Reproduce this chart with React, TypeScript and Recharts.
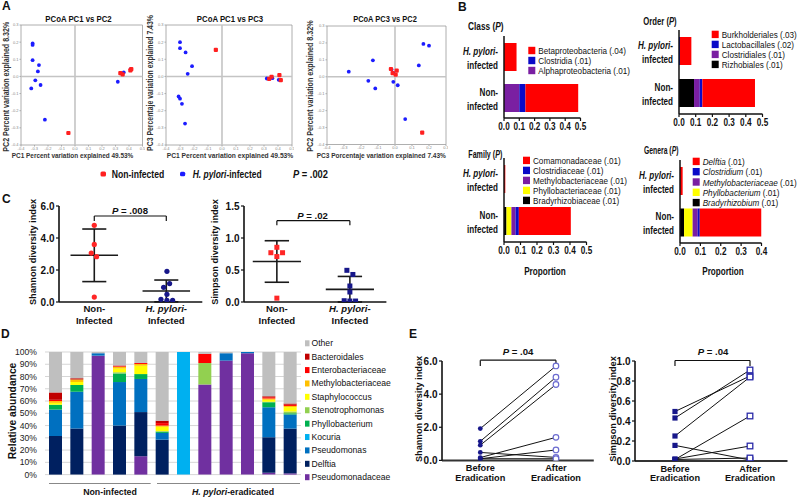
import React from 'react';
import {
  ScatterChart, Scatter, XAxis, YAxis, ReferenceLine, ReferenceArea,
  BarChart, Bar, CartesianGrid,
} from 'recharts';

const SANS = '"Liberation Sans",Arial,Helvetica,sans-serif';

// ================= Panel A: PCoA coordinates [x, y] =================
const pcoa12Infected = [[-0.314, 0.192], [-0.314, 0.184], [-0.314, 0.095], [-0.267, 0.066], [-0.275, 0.029], [-0.294, -0.023], [-0.324, -0.07], [-0.255, -0.05], [-0.223, -0.252], [0.317, -0.031], [0.361, 0.023], [0.412, 0.043]];
const pcoa12NonInfected = [[-0.049, -0.33], [0.336, 0.019], [0.353, 0.012], [0.41, 0.035], [0.417, 0.043]];
const pcoa13Infected = [[-0.3, 0.2], [-0.3, 0.165], [-0.26, 0.14], [-0.214, 0.06], [-0.245, 0.015], [-0.31, -0.117], [-0.3, -0.13], [-0.286, -0.16], [-0.264, -0.275], [0.32, -0.012], [0.36, -0.01], [0.405, -0.02]];
const pcoa13NonInfected = [[-0.044, 0.155], [0.337, -0.014], [0.354, -0.002], [0.41, 0.008], [0.42, -0.021]];
const pcoa32Infected = [[0.167, 0.194], [0.2, 0.184], [-0.13, 0.097], [0.14, 0.067], [-0.272, 0.03], [-0.157, -0.024], [-0.116, -0.069], [-0.01, -0.03], [0.016, -0.05], [0.06, -0.25], [-0.01, 0.023], [-0.02, 0.043]];
const pcoa32NonInfected = [[-0.024, 0.046], [0.01, 0.036], [-0.014, 0.022], [0.004, 0.012], [0.16, -0.33]];
const pcoaTicksWide = [-0.4, -0.3, -0.2, -0.1, 0, 0.1, 0.2, 0.3, 0.4, 0.5];
const pcoaTicksShort = [-0.4, -0.3, -0.2, -0.1, 0, 0.1, 0.2, 0.3];

// ================= Panel B: mean proportions =================
const groupLabels = ['H. pylori-infected', 'Non-infected'];
const classAlphaproteobacteria = [0, 0.1];
const classClostridia = [0, 0.04];
const classBetaproteobacteria = [0.082, 0.345];
const classLegend = [['Betaproteobacteria', '(.04)'], ['Clostridia', '(.01)'], ['Alphaproteobacteria', '(.01)']];
const orderRhizobiales = [0, 0.09];
const orderClostridiales = [0, 0.034];
const orderLactobacillales = [0.006, 0.016];
const orderBurkholderiales = [0.068, 0.315];
const orderLegend = [['Burkholderiales', '(.03)'], ['Lactobacillales', '(.02)'], ['Clostridiales', '(.01)'], ['Rizhobiales', '(.01)']];
const familyBradyrhizobiaceae = [0, 0.015];
const familyPhyllobacteriaceae = [0, 0.03];
const familyMethylobacteriaceae = [0, 0.025];
const familyClostridiaceae = [0, 0.02];
const familyComamonadaceae = [0.008, 0.315];
const familyLegend = [['Comamonadaceae', '(.01)'], ['Clostridiaceae', '(.01)'], ['Methylobacteriaceae', '(.01)'], ['Phyllobacteriaceae', '(.01)'], ['Bradyrhizobiaceae', '(.01)']];
const generaBradyrhizobium = [0, 0.02];
const generaPhyllobacterium = [0, 0.042];
const generaMethylobacteriaceae = [0, 0.025];
const generaClostridium = [0, 0.01];
const generaDelftia = [0.013, 0.303];
const generaLegend = [['Delftia', '(.01)'], ['Clostridium', '(.01)'], ['Methylobacteriaceae', '(.01)'], ['Phyllobacterium', '(.01)'], ['Bradyrhizobium', '(.01)']];
const propTicks5 = [0, 0.1, 0.2, 0.3, 0.4, 0.5];
const propTicks4 = [0, 0.1, 0.2, 0.3, 0.4];

// ================= Panel C: diversity =================
const shannonNonInfected = [4.79, 3.6, 3.06, 2.83, 0.31];
const shannonInfected = [1.92, 1.15, 0.92, 0.48, 0.17, 0.1, 0.1];
const simpsonNonInfected = [0.855, 0.77, 0.77, 0.71, 0.06];
const simpsonInfected = [0.495, 0.43, 0.25, 0.156, 0.02, 0.015, 0.015];
const shannonNonJitter = [0, 0, -0.042, 0.032, 0];
const shannonInfJitter = [0.009, 0.046, -0.037, 0.009, -0.074, 0.009, 0.088];
const simpsonNonJitter = [0, -0.082, 0.078, 0, 0];
const simpsonInfJitter = [-0.041, 0.041, 0, 0, -0.078, 0, 0.078];

// ================= Panel D: relative abundance (%) =================
const dSamples = ['N1', 'N2', 'N3', 'N4', 'N5', 'E1', 'E2', 'E3', 'E4', 'E5', 'E6', 'E7'];
const dPseudomonadaceae = [0, 0, 97, 0, 15, 0, 0, 73.5, 93, 99, 1.5, 1];
const dDelftia = [31.5, 37.5, 0, 40, 36, 28.5, 0, 0, 0, 0, 29, 36.5];
const dPseudomonas = [21.5, 30, 2, 35.5, 27, 5.5, 0, 0, 6, 1, 24.5, 11.5];
const dKocuria = [0, 0, 0, 0, 0, 0, 100, 0, 0, 0, 0, 0];
const dPhyllobacterium = [4, 5.5, 0, 7, 4, 1, 0, 0, 0, 0, 4, 1];
const dStenotrophomonas = [0, 0, 0, 1, 0, 0.5, 0, 17.5, 0, 0, 0.5, 1.5];
const dStaphylococcus = [1.5, 2.5, 0, 3, 6.8, 3.5, 0, 0, 0, 0, 1.5, 3.5];
const dMethylobacteriaceae = [1.5, 2, 0, 1.5, 1.4, 1, 0, 0, 0, 0, 1, 1];
const dEnterobacteriaceae = [1, 0, 0, 0.5, 0.8, 2, 0, 7.5, 0, 0, 1, 1];
const dBacteroidales = [6, 1, 0, 0.5, 0, 2, 0, 0, 0, 0, 1, 1];
const dOther = [33, 21.5, 1, 11, 9, 56, 0, 1.5, 1, 0, 36, 42];
const dPercentTicks = [0, 10, 20, 30, 40, 50, 60, 70, 80, 90, 100];

// ================= Panel E: before / after eradication =================
const eShannonBefore = [1.92, 1.15, 0.92, 0.48, 0.17, 0.1, 0.1];
const eShannonAfter = [5.7, 5.02, 4.58, 0.18, 1.39, 0.63, 0.1];
const eSimpsonBefore = [0.495, 0.43, 0.25, 0.156, 0.02, 0.015, 0.015];
const eSimpsonAfter = [0.85, 0.91, 0.84, 0.01, 0.15, 0.45, 0.03];

// ================= text metrics (Arial / Liberation Sans advance widths) =================
const REG: Record<string, number> = { ' ': 278, '!': 278, '%': 889, '(': 333, ')': 333, '-': 333, '.': 278, ',': 278, ':': 278, '=': 584 };
const BLD: Record<string, number> = { ' ': 278, '!': 333, '%': 889, '(': 333, ')': 333, '-': 333, '.': 278, ',': 278, ':': 333, '=': 584 };
'0123456789'.split('').forEach((c) => { REG[c] = 556; BLD[c] = 556; });
const UP = 'ABCDEFGHIJKLMNOPQRSTUVWXYZ';
const LO = 'abcdefghijklmnopqrstuvwxyz';
const upReg = [667, 667, 722, 722, 667, 611, 778, 722, 278, 500, 667, 556, 833, 722, 778, 667, 778, 722, 667, 611, 722, 667, 944, 667, 667, 611];
const upBld = [722, 722, 722, 722, 667, 611, 778, 722, 278, 556, 722, 611, 833, 722, 778, 667, 778, 722, 667, 611, 722, 667, 944, 667, 667, 611];
const loReg = [556, 556, 500, 556, 556, 278, 556, 556, 222, 222, 500, 222, 833, 556, 556, 556, 556, 333, 500, 278, 556, 500, 722, 500, 500, 500];
const loBld = [556, 611, 556, 611, 556, 333, 611, 611, 278, 278, 556, 278, 889, 611, 611, 611, 611, 389, 556, 333, 611, 556, 778, 556, 556, 500];
UP.split('').forEach((c, i) => { REG[c] = upReg[i]; BLD[c] = upBld[i]; });
LO.split('').forEach((c, i) => { REG[c] = loReg[i]; BLD[c] = loBld[i]; });
const emWidth = (s: string, bold: boolean) => s.split('').reduce((w, c) => w + ((bold ? BLD : REG)[c] ?? 556), 0) / 1000;

type Seg = string | { i: string };
const segText = (s: Seg) => (typeof s === 'string' ? s : s.i);

// One <text> per label; horizontal condensation by a scale transform (sx, or to reach width w)
function T(props: { x: number; y: number; size: number; t: Seg | Seg[]; bold?: boolean; anchor?: 'start' | 'middle' | 'end'; rot?: boolean; sx?: number; w?: number; fill?: string }) {
  const { x, y, size, t, bold = false, anchor = 'start', rot, sx = 1, w, fill = '#111' } = props;
  const segs = Array.isArray(t) ? t : [t];
  const natural = emWidth(segs.map(segText).join(''), bold) * size;
  const k = w ? w / natural : sx;
  const tf = `translate(${x},${y})${rot ? ' rotate(-90)' : ''}${Math.abs(k - 1) > 0.001 ? ` scale(${k.toFixed(4)},1)` : ''}`;
  return (
    <g transform={tf}>
      <text x={0} y={0} fontSize={size} fontWeight={bold ? 'bold' : 'normal'} textAnchor={anchor} fontFamily={SANS} fill={fill}>
        {segs.map((s, idx) => (typeof s === 'string'
          ? <tspan key={idx}>{s}</tspan>
          : <tspan key={idx} fontStyle="italic">{s.i}</tspan>))}
      </text>
    </g>
  );
}

// ================= helpers =================
const mean = (a: number[]) => a.reduce((s, v) => s + v, 0) / a.length;
const sd = (a: number[]) => {
  const m = mean(a);
  return Math.sqrt(a.reduce((s, v) => s + (v - m) * (v - m), 0) / (a.length - 1));
};
const toXY = (a: number[][]) => a.map(([x, y]) => ({ x, y }));

function place(x0: number, y0: number, x1: number, y1: number, yw: number, xh: number, pl = 2, pt = 10, pr = 10, pb = 2) {
  return {
    left: x0 - yw - pl,
    top: y0 - pt,
    width: x1 - x0 + yw + pl + pr,
    height: y1 - y0 + pt + xh + pb,
    margin: { left: pl, top: pt, right: pr, bottom: pb },
  };
}

const BLUE_A = '#1c1cff';
const RED_A = '#ff2020';
const cRED = '#ff0000';
const cBLUE = '#0a0ac8';
const cPURPLE = '#7a1fa2';
const cYELLOW = '#ffff00';
const cBLACK = '#000000';
const NAVY = '#17178a';

// ================= Panel A =================
const blueDot = (p: any) => <circle cx={p.cx} cy={p.cy} r={1.9} fill={BLUE_A} />;
const redDot = (p: any) => <rect x={p.cx - 2.1} y={p.cy - 2.1} width={4.2} height={4.2} rx={1} fill={RED_A} />;

function PcoaPlot(props: { x0: number; y0: number; x1: number; y1: number; xTicks: number[]; blue: number[][]; red: number[][] }) {
  const { x0, y0, x1, y1, xTicks, blue, red } = props;
  const p = place(x0, y0, x1, y1, 10, 8, 0, 10, 2, 2);
  const xMin = xTicks[0];
  const xMax = xTicks[xTicks.length - 1];
  const tickStyle = { fontSize: 4, fill: '#888', fontFamily: SANS };
  return (
    <div style={{ position: 'absolute', left: p.left, top: p.top }}>
      <ScatterChart width={p.width} height={p.height} margin={p.margin}>
        <XAxis type="number" dataKey="x" domain={[xMin, xMax]} ticks={xTicks} interval={0} allowDataOverflow
          tickFormatter={(v: number) => v.toFixed(1)} axisLine={false} tickLine={{ stroke: '#aaa' }} tickSize={1.5} tickMargin={0.5}
          tick={tickStyle} height={8} />
        <YAxis type="number" dataKey="y" domain={[-0.4, 0.3]} ticks={pcoaTicksShort} interval={0} allowDataOverflow
          tickFormatter={(v: number) => v.toFixed(1)} axisLine={false} tickLine={{ stroke: '#aaa' }} tickSize={1.5} tickMargin={1}
          tick={tickStyle} width={10} />
        <ReferenceArea x1={xMin} x2={xMax} y1={-0.4} y2={0.3} fill="none" stroke="#9a9a9a" strokeWidth={0.8} />
        <ReferenceLine x={0} stroke="#c4c4c4" strokeWidth={1.6} />
        <ReferenceLine y={0} stroke="#c4c4c4" strokeWidth={1.6} />
        <Scatter data={toXY(blue)} shape={blueDot} isAnimationActive={false} />
        <Scatter data={toXY(red)} shape={redDot} isAnimationActive={false} />
      </ScatterChart>
    </div>
  );
}

// ================= Panel B =================
function GroupTick(props: any) {
  const { x, y, payload } = props;
  const hp = String(payload.value).startsWith('H.');
  return (
    <g>
      <T x={x} y={y - 2} size={10.5} bold anchor="end" sx={0.77} t={hp ? [{ i: 'H. pylori' }, '-'] : 'Non-'} />
      <T x={x} y={y + 12} size={10.5} bold anchor="end" sx={0.77} t="infected" />
    </g>
  );
}
function PropTick(props: any) {
  const { x, y, payload } = props;
  return <T x={x} y={y + 8} size={10.5} bold anchor="middle" sx={0.78} t={Number(payload.value).toFixed(1)} />;
}

type Series = { name: string; values: number[]; color: string };

function ProportionBars(props: { x0: number; y0: number; x1: number; y1: number; ticks: number[]; series: Series[] }) {
  const { x0, y0, x1, y1, ticks, series } = props;
  const p = place(x0, y0, x1, y1, 56, 18);
  const data = groupLabels.map((g, i) => {
    const row: any = { group: g };
    series.forEach((s) => { row[s.name] = s.values[i]; });
    return row;
  });
  return (
    <div style={{ position: 'absolute', left: p.left, top: p.top }}>
      <BarChart width={p.width} height={p.height} margin={p.margin} data={data} layout="vertical" barSize={28} barCategoryGap={0}>
        <XAxis type="number" domain={[0, ticks[ticks.length - 1]]} ticks={ticks} interval={0} allowDataOverflow
          axisLine={{ stroke: '#111', strokeWidth: 1.5 }} tickLine={{ stroke: '#111', strokeWidth: 1.2 }}
          tickSize={3} tickMargin={1} height={18} tick={<PropTick />} />
        <YAxis type="category" dataKey="group" width={56} axisLine={{ stroke: '#111', strokeWidth: 1.5 }} tickLine={false}
          tickSize={0} tickMargin={6} tick={<GroupTick />} interval={0} />
        {series.map((s) => (
          <Bar key={s.name} dataKey={s.name} stackId="s" fill={s.color} isAnimationActive={false} />
        ))}
      </BarChart>
    </div>
  );
}

// ================= Panels C and E shared =================
function makeCatTick(lines: Record<number, [Seg | Seg[], string]>, d1: number, d2: number, size: number) {
  return (props: any) => {
    const { x, y, payload } = props;
    const l = lines[payload.value];
    if (!l) return <g />;
    return (
      <g>
        <T x={x} y={y + d1} size={size} bold anchor="middle" t={l[0]} />
        <T x={x} y={y + d2} size={size} bold anchor="middle" t={l[1]} />
      </g>
    );
  };
}
const cTick = makeCatTick({ 1: ['Non-', 'Infected'], 2: [[{ i: 'H. pylori' }, '-'], 'Infected'] }, 9.7, 22, 9.6);
const eTick = makeCatTick({ 1: ['Before', 'Eradication'], 2: ['After', 'Eradication'] }, 11, 20.2, 9.2);

const boldTick = { fontSize: 10, fontFamily: SANS, fontWeight: 'bold', fill: '#111' };

function DiversityPlot(props: {
  x0: number; y0: number; x1: number; y1: number; xMin: number; yMax: number; yTicks: number[];
  non: number[]; nonJ: number[]; inf: number[]; infJ: number[]; bracket: [number, number]; square: boolean;
}) {
  const { x0, y0, x1, y1, xMin, yMax, yTicks, non, nonJ, inf, infJ, bracket, square } = props;
  const p = place(x0, y0, x1, y1, 28, 26);
  const groups = [
    { c: 1, vals: non, jit: nonJ, color: '#ff2626' },
    { c: 2, vals: inf, jit: infJ, color: NAVY },
  ];
  const shape = (color: string) => (q: any) => square
    ? <rect x={q.cx - 2.5} y={q.cy - 2.5} width={5} height={5} fill={color} />
    : <circle cx={q.cx} cy={q.cy} r={2.6} fill={color} />;
  const lineProps = { stroke: '#1a1a1a', strokeWidth: 1.6, ifOverflow: 'visible' as const };
  return (
    <div style={{ position: 'absolute', left: p.left, top: p.top }}>
      <ScatterChart width={p.width} height={p.height} margin={p.margin}>
        <XAxis type="number" dataKey="x" domain={[xMin, 2.5]} ticks={[1, 2]} interval={0} allowDataOverflow
          axisLine={{ stroke: '#111', strokeWidth: 1.6 }} tickLine={false} tickSize={0} tickMargin={0} tick={cTick} height={26} />
        <YAxis type="number" dataKey="y" domain={[0, yMax]} ticks={yTicks} interval={0} allowDataOverflow
          tickFormatter={(v: number) => v.toFixed(1)} axisLine={{ stroke: '#111', strokeWidth: 1.6 }}
          tickLine={{ stroke: '#111', strokeWidth: 1.2 }} tickSize={3} tickMargin={1.5} tick={boldTick} width={28} />
        {groups.map((g) => {
          const m = mean(g.vals);
          const s = sd(g.vals);
          const hi = m + s;
          const lo = Math.max(0, m - s);
          return [
            <ReferenceLine key={`m${g.c}`} segment={[{ x: g.c - 0.33, y: m }, { x: g.c + 0.33, y: m }]} {...lineProps} />,
            <ReferenceLine key={`v${g.c}`} segment={[{ x: g.c, y: lo }, { x: g.c, y: hi }]} {...lineProps} />,
            <ReferenceLine key={`h${g.c}`} segment={[{ x: g.c - 0.167, y: hi }, { x: g.c + 0.167, y: hi }]} {...lineProps} />,
            <ReferenceLine key={`l${g.c}`} segment={[{ x: g.c - 0.167, y: lo }, { x: g.c + 0.167, y: lo }]} {...lineProps} />,
          ];
        })}
        <ReferenceLine segment={[{ x: 1, y: bracket[0] }, { x: 2, y: bracket[0] }]} stroke="#111" strokeWidth={1.2} ifOverflow="visible" />
        <ReferenceLine segment={[{ x: 1, y: bracket[0] }, { x: 1, y: bracket[1] }]} stroke="#111" strokeWidth={1.2} ifOverflow="visible" />
        <ReferenceLine segment={[{ x: 2, y: bracket[0] }, { x: 2, y: bracket[1] }]} stroke="#111" strokeWidth={1.2} ifOverflow="visible" />
        {groups.map((g) => (
          <Scatter key={`s${g.c}`} data={g.vals.map((v, i) => ({ x: g.c + g.jit[i], y: v }))} shape={shape(g.color)} isAnimationActive={false} />
        ))}
      </ScatterChart>
    </div>
  );
}

// ================= Panel D =================
const dTaxa: Series[] = [
  { name: 'Pseudomonadaceae', values: dPseudomonadaceae, color: '#7030a0' },
  { name: 'Delftia', values: dDelftia, color: '#002060' },
  { name: 'Pseudomonas', values: dPseudomonas, color: '#0070c0' },
  { name: 'Kocuria', values: dKocuria, color: '#00b0f0' },
  { name: 'Phyllobacterium', values: dPhyllobacterium, color: '#00b050' },
  { name: 'Stenotrophomonas', values: dStenotrophomonas, color: '#92d050' },
  { name: 'Staphylococcus', values: dStaphylococcus, color: '#ffff00' },
  { name: 'Methylobacteriaceae', values: dMethylobacteriaceae, color: '#ffc000' },
  { name: 'Enterobacteriaceae', values: dEnterobacteriaceae, color: '#ff0000' },
  { name: 'Bacteroidales', values: dBacteroidales, color: '#c00000' },
  { name: 'Other', values: dOther, color: '#bfbfbf' },
];

function AbundanceBars() {
  const p = place(45, 351.7, 301, 474.3, 30, 0, 2, 10, 2, 8);
  const data = dSamples.map((s, i) => {
    const row: any = { sample: s };
    dTaxa.forEach((t) => { row[t.name] = t.values[i]; });
    return row;
  });
  return (
    <div style={{ position: 'absolute', left: p.left, top: p.top }}>
      <BarChart width={p.width} height={p.height} margin={p.margin} data={data} barSize={13}>
        <CartesianGrid vertical={false} stroke="#d6d6d6" strokeWidth={1} />
        <XAxis dataKey="sample" hide />
        <YAxis type="number" domain={[0, 100]} ticks={dPercentTicks} interval={0} tickFormatter={(v: number) => `${v}%`}
          axisLine={false} tickLine={false} tickSize={6} tickMargin={2} width={30}
          tick={{ fontSize: 8.6, fontFamily: SANS, fill: '#222' }} />
        {dTaxa.map((t) => (
          <Bar key={t.name} dataKey={t.name} stackId="d" fill={t.color} isAnimationActive={false} />
        ))}
      </BarChart>
    </div>
  );
}

// ================= Panel E =================
function PairedPlot(props: {
  x0: number; y0: number; x1: number; y1: number; xMin: number; yMax: number; yTicks: number[];
  before: number[]; after: number[]; square: boolean; bracket: [number, number];
}) {
  const { x0, y0, x1, y1, xMin, yMax, yTicks, before, after, square, bracket } = props;
  const p = place(x0, y0, x1, y1, 28, 24);
  const marker = (q: any) => {
    const isBefore = q.payload && q.payload.x === 1;
    if (square) {
      return isBefore
        ? <rect x={q.cx - 2.6} y={q.cy - 2.6} width={5.2} height={5.2} fill={NAVY} />
        : <rect x={q.cx - 2.8} y={q.cy - 2.8} width={5.6} height={5.6} fill="#fff" stroke="#2a2aa8" strokeWidth={1.3} />;
    }
    return isBefore
      ? <circle cx={q.cx} cy={q.cy} r={2.4} fill={NAVY} />
      : <circle cx={q.cx} cy={q.cy} r={2.8} fill="#fff" stroke="#6b6bd0" strokeWidth={1.2} />;
  };
  return (
    <div style={{ position: 'absolute', left: p.left, top: p.top }}>
      <ScatterChart width={p.width} height={p.height} margin={p.margin}>
        <XAxis type="number" dataKey="x" domain={[xMin, 2.5]} ticks={[1, 2]} interval={0} allowDataOverflow
          axisLine={{ stroke: '#333', strokeWidth: 2 }} tickLine={false} tickSize={0} tickMargin={0} tick={eTick} height={24} />
        <YAxis type="number" dataKey="y" domain={[0, yMax]} ticks={yTicks} interval={0} allowDataOverflow
          tickFormatter={(v: number) => v.toFixed(1)} axisLine={{ stroke: '#111', strokeWidth: 1.6 }}
          tickLine={{ stroke: '#111', strokeWidth: 1.2 }} tickSize={3} tickMargin={1.5} tick={boldTick} width={28} />
        <ReferenceLine segment={[{ x: 1, y: bracket[0] }, { x: 2, y: bracket[0] }]} stroke="#111" strokeWidth={1.2} ifOverflow="visible" />
        <ReferenceLine segment={[{ x: 1, y: bracket[0] }, { x: 1, y: bracket[1] }]} stroke="#111" strokeWidth={1.2} ifOverflow="visible" />
        <ReferenceLine segment={[{ x: 2, y: bracket[0] }, { x: 2, y: bracket[1] }]} stroke="#111" strokeWidth={1.2} ifOverflow="visible" />
        {before.map((b, i) => (
          <Scatter key={i} data={[{ x: 1, y: b }, { x: 2, y: after[i] }]} line={{ stroke: '#111', strokeWidth: 1 }}
            shape={marker} isAnimationActive={false} />
        ))}
      </ScatterChart>
    </div>
  );
}

// ================= overlay text =================
function LegendB(props: { x: number; top: number; step: number; items: string[][]; colors: string[]; italic?: boolean }) {
  const { x, top, step, items, colors, italic } = props;
  return (
    <g>
      {items.map((it, i) => (
        <g key={i}>
          <rect x={x} y={top + i * step} width={7} height={7.4} fill={colors[i]} />
          <T x={x + 10} y={top + i * step + 7.4} size={9.8} sx={0.83}
            t={italic ? [{ i: it[0] }, ` ${it[1]}`] : `${it[0]} ${it[1]}`} />
        </g>
      ))}
    </g>
  );
}

function Overlay() {
  const P = { i: 'P' };
  return (
    <svg width={800} height={498} style={{ position: 'absolute', left: 0, top: 0, pointerEvents: 'none' }}>
      {/* panel letters */}
      <T x={2} y={10} size={12} bold t="A" />
      <T x={458} y={11} size={12} bold t="B" />
      <T x={2} y={203} size={12} bold t="C" />
      <T x={1} y={338} size={12} bold t="D" />
      <T x={409} y={338} size={12} bold t="E" />

      {/* Panel A titles & axis labels */}
      <T x={78.5} y={21.5} size={8.8} bold anchor="middle" w={66.7} t="PCoA PC1 vs PC2" />
      <T x={230} y={21.5} size={8.8} bold anchor="middle" w={66.7} t="PCoA PC1 vs PC3" />
      <T x={385} y={21.5} size={8.8} bold anchor="middle" w={64} t="PCoA PC3 vs PC2" />
      <T x={72.5} y={158.3} size={8} bold anchor="middle" w={121.7} fill="#333" t="PC1 Percent variation explained 49.53%" />
      <T x={230} y={158.3} size={8} bold anchor="middle" w={126.7} fill="#333" t="PC1 Percent variation explained 49.53%" />
      <T x={381.3} y={158.3} size={8} bold anchor="middle" w={129.3} fill="#333" t="PC3 Porcentaje variation explained 7.43%" />
      <T x={9} y={86.7} size={8.2} bold anchor="middle" w={130} fill="#333" rot t="PC2 Percent variation explained 8.32%" />
      <T x={152.5} y={83} size={8.2} bold anchor="middle" w={136} fill="#333" rot t="PC3 Percentaje variation explained 7.43%" />
      <T x={313} y={86} size={8.2} bold anchor="middle" w={131.7} fill="#333" rot t="PC2 Percent variation explained 8.32%" />
      {/* Panel A legend */}
      <rect x={100.5} y={171.5} width={5.5} height={5} rx={1.5} fill={RED_A} />
      <T x={111.7} y={178} size={10.5} bold w={52.6} t="Non-infected" />
      <rect x={180} y={171.7} width={5.2} height={4.6} rx={1.5} fill={BLUE_A} />
      <T x={192.7} y={178} size={10.5} bold w={69} t={[{ i: 'H. pylori' }, '-infected']} />
      <T x={293} y={178} size={10.5} bold w={35} t={[P, ' = .002']} />

      {/* Panel B titles */}
      <T x={468} y={30} size={10.3} bold w={35.6} t={['Class (', P, ')']} />
      <T x={643.3} y={25} size={10.3} bold w={33.4} t={['Order (', P, ')']} />
      <T x={468.3} y={158} size={10.3} bold w={34} t={['Family (', P, ')']} />
      <T x={644} y={153.5} size={10.3} bold w={34.5} t={['Genera (', P, ')']} />
      <T x={545} y={274.5} size={10.5} bold anchor="middle" w={41.7} t="Proportion" />
      <T x={723} y={275} size={10.5} bold anchor="middle" w={41.5} t="Proportion" />
      <LegendB x={528.3} top={46.8} step={10} items={classLegend} colors={[cRED, cBLUE, cPURPLE]} />
      <LegendB x={711.7} top={30.7} step={10} items={orderLegend} colors={[cRED, cBLUE, cPURPLE, cBLACK]} />
      <LegendB x={523} top={156.7} step={10} items={familyLegend} colors={[cRED, cBLUE, cPURPLE, cYELLOW, cBLACK]} />
      <LegendB x={692.7} top={157.7} step={10.3} items={generaLegend} colors={[cRED, cBLUE, cPURPLE, cYELLOW, cBLACK]} italic />

      {/* Panel C */}
      <T x={36} y={252} size={9.2} bold anchor="middle" rot t="Shannon diversity index" />
      <T x={218} y={252} size={9.2} bold anchor="middle" rot t="Simpson diversity index" />
      <T x={130} y={213.5} size={9.6} bold anchor="middle" t={[P, ' = .008']} />
      <T x={312.5} y={219} size={9.6} bold anchor="middle" t={[P, ' = .02']} />

      {/* Panel D */}
      <T x={16} y={411} size={10.3} bold anchor="middle" rot t="Relative abundance" />
      {dTaxa.slice().reverse().map((t, i) => (
        <g key={t.name}>
          <rect x={305} y={343.3 + i * 13.39 - 3} width={4.5} height={6} fill={t.color} />
          <T x={311.5} y={343.3 + i * 13.39 + 3} size={8.6} t={t.name} />
        </g>
      ))}
      <line x1={49} y1={483.5} x2={150.7} y2={483.5} stroke="#888" strokeWidth={1} />
      <line x1={157} y1={483.5} x2={300} y2={483.5} stroke="#888" strokeWidth={1} />
      <T x={110} y={495} size={8.8} bold anchor="middle" t="Non-infected" />
      <T x={233} y={495} size={8.8} bold anchor="middle" t={[{ i: 'H. pylori' }, '-eradicated']} />

      {/* Panel E */}
      <T x={421.5} y={409} size={9.2} bold anchor="middle" rot t="Shannon diversity index" />
      <T x={616} y={409} size={9.2} bold anchor="middle" rot t="Simpson diversity index" />
      <T x={518} y={355} size={9.6} bold anchor="middle" t={[P, ' = .04']} />
      <T x={713} y={355} size={9.6} bold anchor="middle" t={[P, ' = .04']} />
    </svg>
  );
}

export default function App() {
  return (
    <div style={{ position: 'absolute', left: 0, top: 0, width: 800, height: 498, background: '#fff', overflow: 'hidden' }}>
      <PcoaPlot x0={21} y0={25} x1={142.5} y1={145} xTicks={pcoaTicksWide} blue={pcoa12Infected} red={pcoa12NonInfected} />
      <PcoaPlot x0={166} y0={25} x1={292} y1={145} xTicks={pcoaTicksWide} blue={pcoa13Infected} red={pcoa13NonInfected} />
      <PcoaPlot x0={327} y0={25.5} x1={446} y1={144} xTicks={pcoaTicksShort} blue={pcoa32Infected} red={pcoa32NonInfected} />

      <ProportionBars x0={503.5} y0={36} x1={580} y1={118} ticks={propTicks5} series={[
        { name: 'Alphaproteobacteria', values: classAlphaproteobacteria, color: cPURPLE },
        { name: 'Clostridia', values: classClostridia, color: cBLUE },
        { name: 'Betaproteobacteria', values: classBetaproteobacteria, color: cRED },
      ]} />
      <ProportionBars x0={678.5} y0={30} x1={762} y1={114} ticks={propTicks5} series={[
        { name: 'Rizhobiales', values: orderRhizobiales, color: cBLACK },
        { name: 'Clostridiales', values: orderClostridiales, color: cPURPLE },
        { name: 'Lactobacillales', values: orderLactobacillales, color: cBLUE },
        { name: 'Burkholderiales', values: orderBurkholderiales, color: cRED },
      ]} />
      <ProportionBars x0={503.5} y0={158} x1={586} y1={242} ticks={propTicks5} series={[
        { name: 'Bradyrhizobiaceae', values: familyBradyrhizobiaceae, color: cBLACK },
        { name: 'Phyllobacteriaceae', values: familyPhyllobacteriaceae, color: cYELLOW },
        { name: 'Methylobacteriaceae', values: familyMethylobacteriaceae, color: cPURPLE },
        { name: 'Clostridiaceae', values: familyClostridiaceae, color: cBLUE },
        { name: 'Comamonadaceae', values: familyComamonadaceae, color: cRED },
      ]} />
      <ProportionBars x0={680} y0={160} x1={761.5} y1={243} ticks={propTicks4} series={[
        { name: 'Bradyrhizobium', values: generaBradyrhizobium, color: cBLACK },
        { name: 'Phyllobacterium', values: generaPhyllobacterium, color: cYELLOW },
        { name: 'Methylobacteriaceae', values: generaMethylobacteriaceae, color: cPURPLE },
        { name: 'Clostridium', values: generaClostridium, color: cBLUE },
        { name: 'Delftia', values: generaDelftia, color: cRED },
      ]} />

      <DiversityPlot x0={59.2} y0={206} x1={202.5} y1={302} xMin={0.51} yMax={6} yTicks={[0, 2, 4, 6]}
        non={shannonNonInfected} nonJ={shannonNonJitter} inf={shannonInfected} infJ={shannonInfJitter} bracket={[5.375, 5.06]} square={false} />
      <DiversityPlot x0={244.3} y0={206} x1={386.7} y1={302} xMin={0.55} yMax={1.5} yTicks={[0, 0.5, 1, 1.5]}
        non={simpsonNonInfected} nonJ={simpsonNonJitter} inf={simpsonInfected} infJ={simpsonInfJitter} bracket={[1.27, 1.2]} square />

      <AbundanceBars />

      <PairedPlot x0={441.7} y0={361.3} x1={593.5} y1={460.7} xMin={0.494} yMax={6} yTicks={[0, 2, 4, 6]}
        before={eShannonBefore} after={eShannonAfter} square={false} bracket={[6.05, 5.7]} />
      <PairedPlot x0={635} y0={360.7} x1={787.5} y1={460.7} xMin={0.467} yMax={1} yTicks={[0, 0.2, 0.4, 0.6, 0.8, 1]}
        before={eSimpsonBefore} after={eSimpsonAfter} square bracket={[1.005, 0.95]} />

      <Overlay />
    </div>
  );
}
